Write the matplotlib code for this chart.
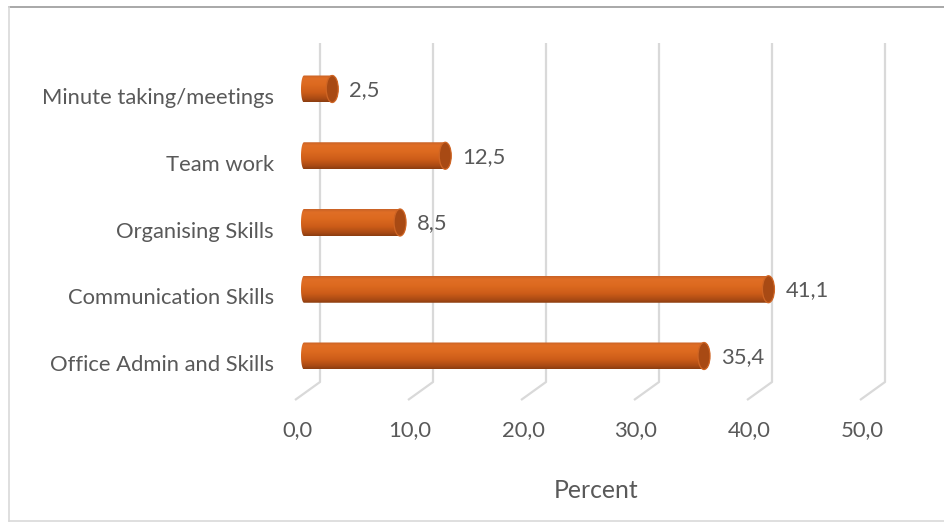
import numpy as np
import matplotlib
matplotlib.use("Agg")
import matplotlib.pyplot as plt
from matplotlib.patches import Ellipse, PathPatch
from matplotlib.path import Path
from matplotlib.colors import LinearSegmentedColormap
from matplotlib.lines import Line2D

categories = ["Office Admin and Skills", "Communication Skills", "Organising Skills",
              "Team work", "Minute taking/meetings"]
values = [35.4, 41.1, 8.5, 12.5, 2.5]
ticks = [0, 10, 20, 30, 40, 50]
tick_labels = ["0,0", "10,0", "20,0", "30,0", "40,0", "50,0"]
axis_title = "Percent"

W, H = 945, 523
fig = plt.figure(figsize=(W / 100, H / 100), dpi=100)
ax = fig.add_axes([0, 0, 1, 1])
# scale: 11.3 px per percent, 66.75 px per category
px_x, px_y = 11.3, 66.75
x0_px, y0_px = 304, 356
ax.set_xlim(-x0_px / px_x, (W - x0_px) / px_x)
ax.set_ylim((y0_px - H) / px_y, y0_px / px_y)
ax.axis("off")

text_color = "#595959"
font = "Lato"
fs = 15.8
grid_color = "#D9D9D9"

def dx(p):
    return p / px_x

def dy(p):
    return p / px_y

# perspective gridlines: back wall verticals plus floor diagonals
y_top = (y0_px - 43) / px_y
y_knee = (y0_px - 382) / px_y
y_floor = (y0_px - 400) / px_y
for t in ticks:
    xb = t + dx(16)
    xf = t + dx(-9)
    ax.add_line(Line2D([xb, xb, xf], [y_top, y_knee, y_floor], color=grid_color,
                       lw=1.6, zorder=1, solid_capstyle="butt"))
for t, lab in zip(ticks, tick_labels):
    ax.text(t + dx(-7), (y0_px - 430) / px_y, lab, ha="center", va="center",
            fontsize=fs, color=text_color, family=font)

# cylinder bars: gradient body clipped to a rounded outline, plus end cap
cmap = LinearSegmentedColormap.from_list("cyl", [
    (0.0, "#8A3C10"), (0.12, "#A94A14"), (0.35, "#CC5C18"),
    (0.65, "#DD6A20"), (0.88, "#E06E26"), (1.0, "#C86226")])
grad = np.linspace(0, 1, 256).reshape(-1, 1)
bar_h = dy(27)
a_left = dx(3)
a_right = dx(6)
th = np.linspace(-np.pi / 2, np.pi / 2, 40)
for i, v in enumerate(values):
    yc = i
    hb = bar_h / 2
    left_arc = np.column_stack([0 - a_left * np.cos(th), yc - hb * np.sin(th)])
    right_arc = np.column_stack([v + a_right * np.cos(th), yc + hb * np.sin(th)])
    verts = np.vstack([left_arc, right_arc, left_arc[:1]])
    codes = [Path.MOVETO] + [Path.LINETO] * (len(verts) - 2) + [Path.CLOSEPOLY]
    patch = PathPatch(Path(verts, codes), facecolor="none", edgecolor="none", zorder=3)
    ax.add_patch(patch)
    im = ax.imshow(grad, cmap=cmap, origin="lower", aspect="auto",
                   extent=[-a_left - 0.1, v + a_right + 0.1, yc - hb, yc + hb],
                   zorder=3, interpolation="bilinear")
    im.set_clip_path(patch)
    cap = Ellipse((v, yc), 2 * a_right, bar_h, facecolor="#A84A14",
                  edgecolor="#CF6524", lw=0.9, zorder=4)
    ax.add_patch(cap)
    ax.text(v + dx(17), yc - dy(1), f"{v:.1f}".replace(".", ","), ha="left",
            va="center", fontsize=fs, color=text_color, family=font, zorder=5)
    ax.text(dx(-30), yc - dy(9), categories[i], ha="right", va="center",
            fontsize=fs, color=text_color, family=font)

ax.text(dx(596 - x0_px), (y0_px - 490) / px_y, axis_title, ha="center", va="center",
        fontsize=17.8, color=text_color, family=font)

# chart area border
fig.add_artist(Line2D([9 / W, 1], [1 - 7 / H, 1 - 7 / H], color="#9A9A9A", lw=1.2,
                      transform=fig.transFigure))
fig.add_artist(Line2D([9 / W, 9 / W], [1 - 7 / H, 1 - 521 / H], color="#D9D9D9", lw=1.2,
                      transform=fig.transFigure))
fig.add_artist(Line2D([9 / W, 1], [1 - 521 / H, 1 - 521 / H], color="#D9D9D9", lw=1.2,
                      transform=fig.transFigure))

fig.savefig("out.png", dpi=100, facecolor="white")
